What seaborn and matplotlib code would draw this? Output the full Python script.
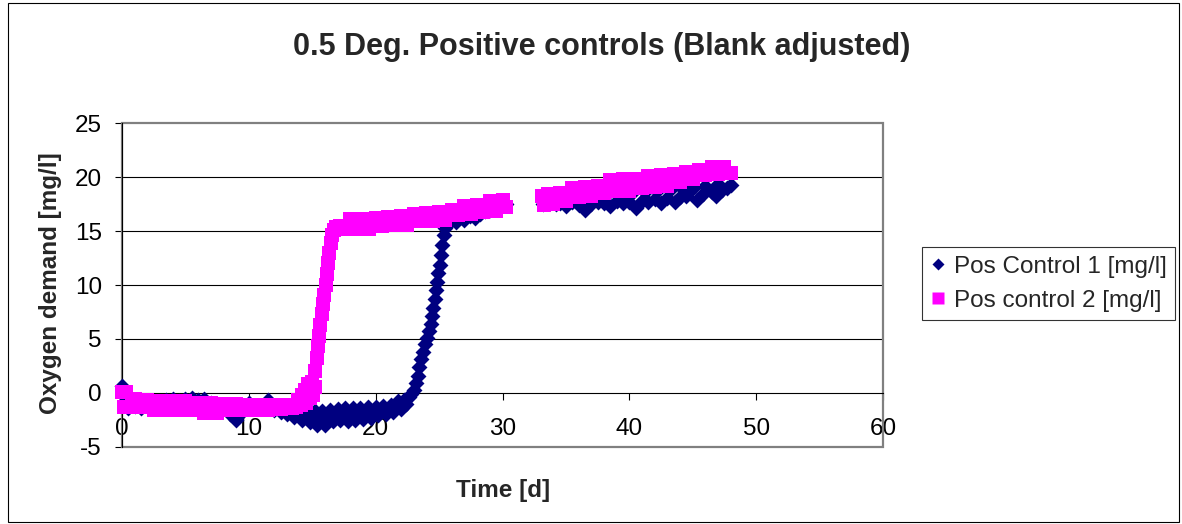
import pandas as pd
import seaborn as sns
import matplotlib.pyplot as plt
from matplotlib.patches import Rectangle
from matplotlib.lines import Line2D

# Pos Control 1 [mg/l]
t1 = [0.0, 0.2, 0.5, 1.0, 1.5, 2.0, 2.5, 3.0, 3.5, 4.0, 4.5, 5.0, 5.5, 6.0, 6.5,
      7.0, 7.5, 8.0, 8.5, 9.0, 9.5, 10.0, 10.5, 11.0, 11.5, 12.0, 12.5, 13.0,
      13.4, 13.6, 13.8, 14.0, 14.2, 14.4, 14.6, 14.8, 15.0, 15.2, 15.4, 15.6,
      15.8, 16.0, 16.2, 16.4, 16.6, 16.8, 17.0, 17.2, 17.4, 17.6, 17.8, 18.0,
      18.2, 18.4, 18.6, 18.8, 19.0, 19.2, 19.4, 19.6, 19.8, 20.0, 20.2, 20.4,
      20.6, 20.8, 21.0, 21.2, 21.4, 21.6, 21.8, 22.0, 22.2, 22.4,
      22.6, 22.8, 23.0, 23.15, 23.3, 23.45, 23.6, 23.75, 23.9, 24.05, 24.2,
      24.35, 24.45, 24.55, 24.65, 24.75, 24.85, 24.95, 25.05, 25.15, 25.25,
      25.35, 25.45, 25.6, 25.8, 26.0, 26.3, 26.6, 27.0, 27.4, 27.8, 28.2,
      28.6, 29.0, 29.5, 30.0, 30.3,
      33.2, 33.7, 34.2, 34.5, 35.0, 35.5, 36.0, 36.5, 37.0, 37.5, 38.0, 38.5,
      39.0, 39.5, 40.0, 40.5, 41.0, 41.5, 42.0, 42.5, 43.0, 43.6, 44.0, 44.5,
      45.3, 45.8, 46.5, 46.8, 47.3, 47.7, 48.0,
      34.0, 35.2, 36.2, 37.2, 38.2, 39.2, 40.2, 41.2, 42.2, 43.2, 44.2, 45.0,
      46.0, 47.0]
v1 = [0.6, -0.8, -1.4, -1.2, -1.4, -1.2, -1.3, -1.2, -0.7, -0.6, -0.8, -0.6,
      -0.5, -0.7, -0.6, -0.9, -1.2, -1.4, -2.0, -2.5, -1.8, -0.9, -1.4, -1.3,
      -0.7, -1.6, -1.8, -2.0,
      -1.6, -2.2, -1.9, -1.6, -2.5, -2.0, -1.6, -2.7, -2.2, -1.7, -3.0, -2.3,
      -1.7, -3.0, -2.2, -1.6, -2.6, -2.0, -1.5, -2.5, -2.0, -1.4, -2.6, -2.0,
      -1.4, -2.5, -1.9, -1.4, -2.4, -1.9, -1.3, -2.3, -1.8, -1.3, -2.1, -1.7,
      -1.2, -2.0, -1.6, -1.1, -1.8, -1.3, -0.8, -1.5, -0.7, -1.0,
      -0.4, -0.1, 0.3, 0.9, 1.6, 2.4, 3.1, 3.8, 4.5, 5.1, 5.7,
      6.4, 7.1, 7.9, 8.7, 9.5, 10.3, 11.1, 11.9, 12.8, 13.7,
      14.6, 15.3, 15.8, 16.0, 16.0, 15.8, 16.2, 16.0, 16.4, 16.2, 16.6,
      16.9, 17.0, 17.3, 17.4, 17.5,
      17.5, 17.6, 17.5, 17.6, 17.3, 17.7, 17.4, 17.0, 17.5, 17.7, 17.6, 17.3,
      17.8, 17.6, 17.7, 17.1, 17.8, 17.7, 18.0, 17.6, 18.1, 17.7, 18.2, 18.3,
      17.9, 18.4, 18.6, 18.3, 18.8, 19.0, 19.3,
      17.9, 18.0, 18.2, 18.3, 18.4, 18.5, 18.5, 18.6, 18.7, 18.8, 18.9, 19.0,
      19.2, 19.4]

# Pos control 2 [mg/l]
t2 = [0.0, 0.12, 0.28, 0.5, 0.75,
      1.0, 1.5, 2.0, 2.5, 3.0, 3.5, 4.0, 4.5, 5.0, 5.5, 6.0, 6.5, 7.0, 7.5,
      8.0, 8.5, 9.0, 9.5, 10.0, 10.5, 11.0, 11.5, 12.0, 12.5, 13.0, 13.4,
      13.7, 13.9, 14.1, 14.2, 14.4, 14.5, 14.7, 14.8, 15.0, 15.05, 15.2,
      15.25, 15.35, 15.45, 15.55, 15.65, 15.75, 15.85, 15.95, 16.05, 16.15,
      16.25, 16.35, 16.45, 16.55, 16.7, 16.9, 17.2,
      17.5, 18.0, 18.5, 19.0, 19.5, 20.0, 20.5, 21.0, 21.5, 22.0, 22.5, 23.0,
      23.5, 24.0, 24.5, 25.0, 25.5, 26.0, 26.5, 27.0, 27.5, 28.0, 28.5, 29.0,
      29.5, 30.0, 30.3,
      33.1, 33.3, 33.6, 34.0, 34.5, 35.0, 35.5, 36.0, 36.5, 37.0, 37.5, 38.0,
      38.5, 39.0, 39.5, 40.0, 40.5, 41.0, 41.5, 42.0, 42.5, 43.0, 43.5, 44.0,
      44.5, 45.0, 45.5, 46.0, 46.5, 47.0, 47.5, 48.0]
v2 = [0.1, -1.3, 0.05, -1.3, -0.6,
      -0.6, -1.3, -0.7, -1.55, -0.75, -1.6, -0.8, -1.6, -0.8, -1.6, -0.9, -1.9,
      -0.9, -1.9, -1.0, -1.6, -1.0, -1.6, -1.1, -1.6, -1.1, -1.6, -1.1, -1.5,
      -1.1, -1.4,
      -1.3, -0.7, -1.1, -0.2, 0.3, -0.9, 0.8, -0.5, 1.0, -0.2, 0.5,
      2.0, 3.2, 4.3, 5.3, 6.3, 7.3, 8.2, 9.1, 10.0, 11.0,
      12.0, 13.0, 13.9, 14.6, 15.1, 15.4, 15.5,
      15.2, 16.1, 15.15, 16.1, 15.2, 16.2, 15.5, 16.35, 15.55, 16.4, 15.6, 16.6,
      15.9, 16.7, 15.9, 16.8, 16.0, 17.0, 16.5, 17.3, 16.6, 17.4, 16.8, 17.8,
      16.9, 17.9, 17.2,
      18.3, 17.4, 18.4, 17.5, 18.5, 17.8, 19.0, 18.2, 19.1, 18.3, 19.2, 18.5,
      19.7, 18.7, 19.8, 18.7, 19.8, 19.0, 20.1, 19.1, 20.2, 19.2, 20.3, 19.6,
      20.5, 19.8, 20.7, 20.2, 20.9, 20.3, 20.9, 20.4]

series_names = ['Pos Control 1 [mg/l]', 'Pos control 2 [mg/l]']
series_colors = ['#000080', '#FF00FF']
x_ticks = [0, 10, 20, 30, 40, 50, 60]
y_ticks = [-5, 0, 5, 10, 15, 20, 25]

sns.set_theme(style="white")
plt.rcParams['font.family'] = ['Liberation Sans', 'DejaVu Sans']
plt.rcParams['axes.unicode_minus'] = False

W, H = 1182, 524
fig = plt.figure(figsize=(W / 100, H / 100), dpi=100)


def fx(px):
    return px / W


def fy(py):
    return 1 - py / H


ax = fig.add_axes([fx(122), fy(446.7), fx(883) - fx(122), fy(123.3) - fy(446.7)])

df1 = pd.DataFrame({'t': t1, 'v': v1})
df2 = pd.DataFrame({'t': t2, 'v': v2})
sns.scatterplot(data=df1, x='t', y='v', ax=ax, marker='D', s=66, color=series_colors[0],
                linewidth=0, legend=False, clip_on=False, zorder=2)
sns.scatterplot(data=df2, x='t', y='v', ax=ax, marker='s', s=112, color=series_colors[1],
                linewidth=0, legend=False, clip_on=False, zorder=2.1)

ax.set_xlim(0, 60)
ax.set_ylim(-5, 25)
ax.set_xticks(x_ticks)
ax.set_yticks(y_ticks)
ax.set_xlabel('')
ax.set_ylabel('')
ax.grid(False)

# gridlines under the data
for y in y_ticks[2:-1]:
    ax.axhline(y, color='black', lw=0.8, zorder=0.5)

# grey plot-area frame
ax.add_patch(Rectangle((0, 0), 1, 1, transform=ax.transAxes, fill=False,
                       edgecolor='#808080', lw=1.6, zorder=0.6, clip_on=False))
ax.spines['top'].set_visible(False)
ax.spines['right'].set_visible(False)
ax.spines['bottom'].set_position(('data', 0))
for s in ['left', 'bottom']:
    ax.spines[s].set_color('black')
    ax.spines[s].set_linewidth(0.8)
    ax.spines[s].set_zorder(0.7)

ax.tick_params(axis='both', direction='out', length=5, width=0.8, color='black',
               labelsize=17.5, labelcolor='black')
ax.tick_params(axis='x', pad=13.5, bottom=True)
ax.tick_params(axis='y', pad=9.5, left=True)

handles = [Line2D([], [], ls='none', marker='D', ms=6.2, mfc=series_colors[0], mec='none'),
           Line2D([], [], ls='none', marker='s', ms=9.0, mfc=series_colors[1], mec='none')]
leg = ax.legend(handles, series_names, loc='upper left', bbox_to_anchor=(fx(922), fy(247)),
                bbox_transform=fig.transFigure, frameon=True, fancybox=False,
                edgecolor='black', fontsize=17.5, borderpad=0.35, labelspacing=0.5,
                handlelength=0.6, handletextpad=0.35, borderaxespad=0)
leg.get_frame().set_linewidth(0.8)

fig.text(fx(602), fy(47), '0.5 Deg. Positive controls (Blank adjusted)',
         ha='center', va='center', fontsize=22, fontweight='bold')
fig.text(fx(503), fy(490), 'Time [d]', ha='center', va='center',
         fontsize=17.5, fontweight='bold')
fig.text(fx(51), fy(283), 'Oxygen demand [mg/l]', ha='center', va='center',
         rotation=90, fontsize=17.5, fontweight='bold')

# outer chart border
fig.add_artist(Rectangle((fx(8), fy(522)), fx(1179) - fx(8), fy(3) - fy(522),
                         transform=fig.transFigure, fill=False,
                         edgecolor='black', lw=0.8))

fig.savefig('out.png', dpi=100)
